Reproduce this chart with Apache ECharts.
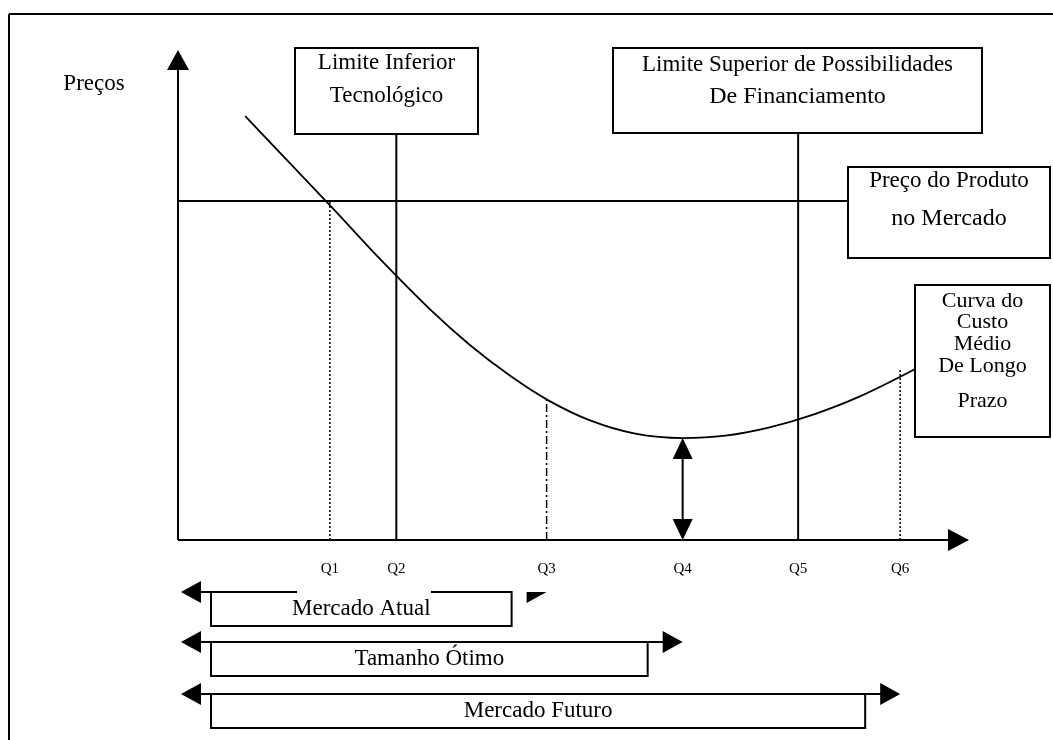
<!DOCTYPE html>
<html><head><meta charset="utf-8">
<script src="https://cdn.jsdelivr.net/npm/echarts@6/dist/echarts.min.js"></script>
<style>html,body{margin:0;padding:0;background:#fff}#c{width:1053px;height:740px}</style>
</head><body><div id="c"></div>
<script>
// ---- data (quantity 0..100, price 0..100) ----
const qLabels = ['Q1', 'Q2', 'Q3', 'Q4', 'Q5', 'Q6'];
const qValues = [19.2, 27.6, 46.6, 63.8, 78.4, 91.3];
const qLineTops = [69.2, 82.9, 28.6, 20.8, 83.1, 35.1];
const qLineKinds = ['dotted', 'solid', 'dashdot', 'doublearrow', 'solid', 'dotted'];
const marketPrice = 69.2;
const costX = [8.5, 14.2, 19.9, 25.5, 31.9, 36.9, 42.0, 46.7, 52.1, 57.8, 63.8, 69.2, 74.8, 80.5, 86.2, 93.2];
const costY = [86.5, 76.8, 67.1, 57.4, 47.0, 39.8, 33.5, 28.6, 24.4, 21.7, 20.8, 21.3, 23.0, 25.7, 29.3, 34.9];
const rangeNames = ['Mercado Atual', 'Tamanho Ótimo', 'Mercado Futuro'];
const rangeEndQ = ['Q3', 'Q4', 'Q6'];
const yAxisName = 'Preços';
const boxTexts = {
  inferior: ['Limite Inferior', 'Tecnológico'],
  superior: ['Limite Superior de Possibilidades', 'De Financiamento'],
  preco: ['Preço do Produto', 'no Mercado'],
  curva: ['Curva do', 'Custo', 'Médio', 'De Longo', 'Prazo']
};

const FONT = '"Liberation Serif", "Times New Roman", serif';
const chart = echarts.init(document.getElementById('c'));

function renderItem(params, api) {
  const ch = [];
  const c = (x, y) => api.coord([x, y]);
  const line = (x1, y1, x2, y2, st) => ch.push({ type: 'line', shape: { x1, y1, x2, y2 }, style: Object.assign({ stroke: '#000', lineWidth: 2, fill: null }, st || {}) });
  const poly = (pts) => ch.push({ type: 'polygon', shape: { points: pts }, style: { fill: '#000' } });
  const text = (t, x, y, size) => ch.push({ type: 'text', style: { text: t, x, y, font: size + 'px ' + FONT, fill: '#000', align: 'center', verticalAlign: 'middle' } });
  const box = (x, y, w, h) => ch.push({ type: 'rect', shape: { x, y, width: w, height: h }, style: { fill: '#fff', stroke: '#000', lineWidth: 2 } });

  // outer frame
  line(9, 14, 1053, 14);
  line(9, 14, 9, 740);

  const o = c(0, 0);
  const yTop = c(0, 100);
  const xEnd = c(100, 0);
  // axes with arrowheads
  line(o[0], o[1], yTop[0], yTop[1] + 20);
  poly([[yTop[0], yTop[1]], [yTop[0] - 11, yTop[1] + 20], [yTop[0] + 11, yTop[1] + 20]]);
  line(o[0], o[1], xEnd[0] - 20, xEnd[1]);
  poly([[xEnd[0], xEnd[1]], [xEnd[0] - 21, xEnd[1] - 11], [xEnd[0] - 21, xEnd[1] + 11]]);
  text(yAxisName, 94, 84, 23);

  // boxes (annotations)
  const bInf = { x: 295, y: 48, w: 183, h: 86 };
  const bSup = { x: 613, y: 48, w: 369, h: 85 };
  const bPre = { x: 848, y: 167, w: 202, h: 91 };
  const bCur = { x: 915, y: 285, w: 135, h: 152 };

  // market price line
  const pl = c(0, marketPrice);
  line(pl[0], pl[1], bPre.x, pl[1]);

  // Q guide lines
  qValues.forEach((q, i) => {
    const b = c(q, 0), t = c(q, qLineTops[i]);
    const k = qLineKinds[i];
    if (k === 'solid') line(b[0], b[1], t[0], t[1]);
    else if (k === 'dotted') line(b[0], b[1], t[0], t[1], { lineWidth: 1.5, lineDash: [2, 2] });
    else if (k === 'dashdot') line(b[0], b[1], t[0], t[1], { lineWidth: 1.5, lineDash: [8, 3, 2, 3] });
    else if (k === 'doublearrow') {
      line(b[0], b[1] - 18, t[0], t[1] + 18);
      poly([[t[0], t[1]], [t[0] - 10, t[1] + 21], [t[0] + 10, t[1] + 21]]);
      poly([[b[0], b[1]], [b[0] - 10, b[1] - 21], [b[0] + 10, b[1] - 21]]);
    }
    text(qLabels[i], b[0], b[1] + 29, 15);
  });

  box(bInf.x, bInf.y, bInf.w, bInf.h);
  text(boxTexts.inferior[0], bInf.x + bInf.w / 2, 63, 23);
  text(boxTexts.inferior[1], bInf.x + bInf.w / 2, 96, 23);
  box(bSup.x, bSup.y, bSup.w, bSup.h);
  text(boxTexts.superior[0], bSup.x + bSup.w / 2, 65, 23);
  text(boxTexts.superior[1], bSup.x + bSup.w / 2, 97, 24);
  box(bPre.x, bPre.y, bPre.w, bPre.h);
  text(boxTexts.preco[0], bPre.x + bPre.w / 2, 181, 23);
  text(boxTexts.preco[1], bPre.x + bPre.w / 2, 219, 24);
  box(bCur.x, bCur.y, bCur.w, bCur.h);
  const cy = [301, 322, 344, 366, 401];
  boxTexts.curva.forEach((t, i) => text(t, bCur.x + bCur.w / 2, cy[i], 22));

  // range arrows under the axis
  const rowY = [592, 642, 694];
  rangeNames.forEach((name, i) => {
    const endQ = qValues[qLabels.indexOf(rangeEndQ[i])];
    const right = c(endQ, 0)[0];
    const left = o[0] + 3;
    const y = rowY[i];
    const bx = left + 30, bw = right - 35 - bx;
    box(bx, y, bw, 34);
    line(left + 18, y, bx, y);
    poly([[left, y], [left + 20, y - 11], [left + 20, y + 11]]);
    if (i === 0) {
      ch.push({ type: 'rect', shape: { x: 297, y: y - 3, width: 134, height: 6 }, style: { fill: '#fff' } });
      poly([[right - 20, y], [right, y], [right - 20, y + 11]]);
    } else {
      line(bx + bw, y, right - 18, y);
      poly([[right, y], [right - 20, y - 11], [right - 20, y + 11]]);
    }
    text(name, bx + bw / 2, y + 17, 23);
  });

  return { type: 'group', children: ch };
}

chart.setOption({
  animation: false,
  backgroundColor: '#fff',
  grid: { left: 178, right: 84, top: 50, bottom: 200, containLabel: false },
  xAxis: { type: 'value', min: 0, max: 100, show: false },
  yAxis: { type: 'value', min: 0, max: 100, show: false },
  series: [
    {
      type: 'custom', coordinateSystem: 'cartesian2d', silent: true, clip: false,
      renderItem, data: [[0, 0]], z: 1
    },
    {
      type: 'line', data: costX.map((x, i) => [x, costY[i]]), smooth: 0.35,
      symbol: 'none', lineStyle: { color: '#000', width: 1.8 }, silent: true, z: 5
    }
  ]
});
</script></body></html>
